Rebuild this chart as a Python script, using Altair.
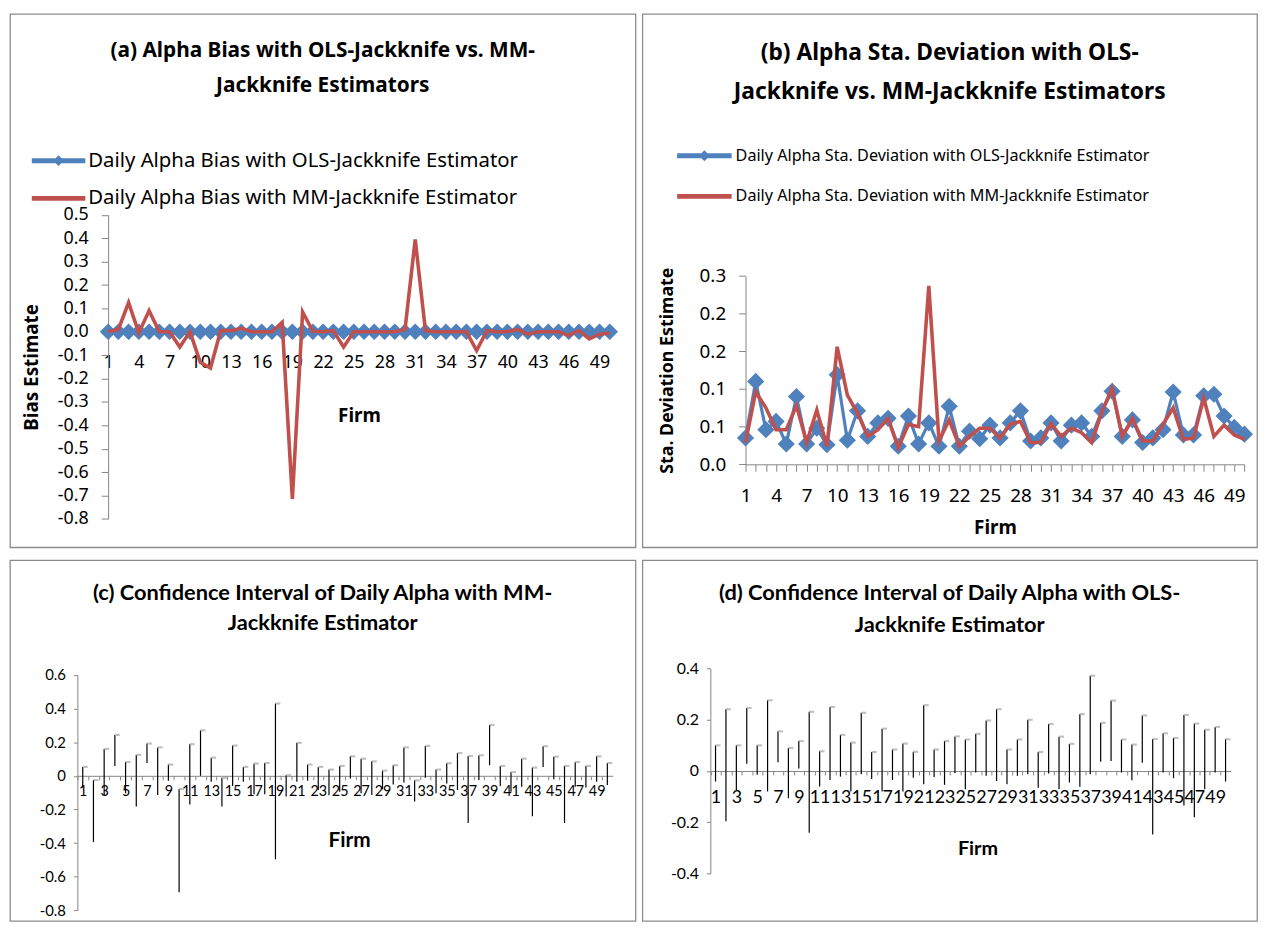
import math
import altair as alt
import pandas as pd

# ---------------- data ----------------
firms = list(range(1, 51))

a_ols_bias = [0.0, 0.0, 0.0, 0.0, 0.0, 0.0, 0.0, 0.0, 0.0, 0.0,
              0.0, 0.0, 0.0, 0.0, 0.0, 0.0, 0.0, 0.0, 0.0, 0.0,
              0.0, 0.0, 0.0, 0.0, 0.0, 0.0, 0.0, 0.0, 0.0, 0.0,
              0.0, 0.0, 0.0, 0.0, 0.0, 0.0, 0.0, 0.0, 0.0, 0.0,
              0.0, 0.0, 0.0, 0.0, 0.0, 0.0, 0.0, 0.0, 0.0, 0.0]
a_mm_bias = [0.0, 0.01, 0.125, -0.005, 0.09, 0.0, 0.0, -0.065, 0.0, -0.13,
             -0.155, 0.005, 0.005, 0.015, 0.0, 0.0, 0.0, 0.04, -0.715, 0.085,
             0.002, 0.0, 0.005, -0.065, 0.0, 0.0, 0.0, 0.0, 0.0, 0.01,
             0.395, 0.005, 0.0, 0.0, 0.0, 0.0, -0.08, 0.005, 0.0, 0.0,
             0.01, -0.01, 0.0, 0.0, 0.0, -0.015, 0.005, -0.03, -0.01, -0.005]

b_ols_sd = [0.035, 0.110, 0.046, 0.057, 0.027, 0.090, 0.027, 0.048, 0.026, 0.119,
            0.032, 0.071, 0.037, 0.055, 0.061, 0.024, 0.064, 0.027, 0.055, 0.024,
            0.077, 0.024, 0.044, 0.034, 0.052, 0.035, 0.055, 0.071, 0.031, 0.035,
            0.055, 0.031, 0.052, 0.055, 0.037, 0.071, 0.097, 0.037, 0.059, 0.029,
            0.035, 0.046, 0.096, 0.039, 0.039, 0.091, 0.093, 0.064, 0.049, 0.040]
b_mm_sd = [0.029, 0.096, 0.075, 0.046, 0.046, 0.078, 0.029, 0.072, 0.024, 0.156,
           0.092, 0.068, 0.037, 0.046, 0.061, 0.022, 0.053, 0.050, 0.237, 0.031,
           0.059, 0.024, 0.037, 0.048, 0.048, 0.035, 0.053, 0.057, 0.029, 0.029,
           0.054, 0.037, 0.048, 0.042, 0.029, 0.070, 0.101, 0.037, 0.061, 0.031,
           0.031, 0.053, 0.075, 0.033, 0.035, 0.088, 0.037, 0.052, 0.039, 0.033]

c_mm_low = [-0.07, -0.394, -0.114, 0.059, -0.104, -0.182, 0.076, -0.114, -0.029, -0.692,
            -0.17, 0.0, -0.035, -0.182, -0.06, -0.035, -0.11, -0.11, -0.496, -0.123,
            -0.035, -0.029, -0.084, -0.115, -0.094, -0.016, -0.104, -0.114, -0.08, -0.051,
            -0.039, -0.153, -0.012, -0.104, -0.045, -0.084, -0.28, -0.025, 0.063, -0.061,
            -0.094, -0.065, -0.241, 0.053, -0.02, -0.28, -0.065, -0.07, -0.035, -0.055]
c_mm_high = [0.053, -0.025, 0.16, 0.243, 0.082, 0.125, 0.192, 0.169, 0.067, -0.078,
             0.188, 0.27, 0.108, -0.012, 0.18, 0.053, 0.073, 0.076, 0.43, 0.004,
             0.196, 0.067, 0.053, 0.037, 0.059, 0.116, 0.102, 0.086, 0.031, 0.063,
             0.169, -0.027, 0.178, 0.037, 0.075, 0.135, 0.118, 0.122, 0.302, 0.059,
             0.022, 0.102, 0.049, 0.176, 0.114, 0.059, 0.082, 0.059, 0.116, 0.076]

d_ols_low = [-0.041, -0.196, -0.074, 0.028, -0.015, -0.08, 0.034, -0.106, 0.01, -0.241,
             -0.061, -0.035, -0.022, -0.08, -0.013, -0.031, -0.08, -0.035, -0.08, -0.026,
             -0.052, -0.023, -0.054, -0.009, -0.071, -0.006, -0.019, -0.039, -0.052, -0.019,
             -0.013, -0.065, -0.01, -0.071, -0.045, -0.062, -0.013, 0.036, 0.039, -0.006,
             -0.036, 0.032, -0.248, -0.006, -0.028, -0.135, -0.181, -0.071, -0.006, -0.041]
d_ols_high = [0.1, 0.241, 0.1, 0.246, 0.1, 0.276, 0.155, 0.09, 0.117, 0.231,
              0.077, 0.25, 0.141, 0.111, 0.227, 0.074, 0.165, 0.084, 0.107, 0.075,
              0.257, 0.084, 0.117, 0.135, 0.123, 0.145, 0.197, 0.241, 0.084, 0.123,
              0.2, 0.074, 0.183, 0.134, 0.106, 0.222, 0.372, 0.188, 0.275, 0.123,
              0.103, 0.217, 0.125, 0.147, 0.129, 0.219, 0.185, 0.161, 0.172, 0.124]

a_y_ticks = [-0.8, -0.7, -0.6, -0.5, -0.4, -0.3, -0.2, -0.1, 0.0, 0.1, 0.2, 0.3, 0.4, 0.5]
b_y_ticks = [0.0, 0.05, 0.1, 0.15, 0.2, 0.25]
c_y_ticks = [-0.8, -0.6, -0.4, -0.2, 0.0, 0.2, 0.4, 0.6]
d_y_ticks = [-0.4, -0.2, 0.0, 0.2, 0.4]
ab_x_labels = [1, 4, 7, 10, 13, 16, 19, 22, 25, 28, 31, 34, 37, 40, 43, 46, 49]
cd_x_labels = [1, 3, 5, 7, 9, 11, 13, 15, 17, 19, 21, 23, 25, 27, 29, 31, 33, 35, 37, 39,
               41, 43, 45, 47, 49]

a_title = ["(a) Alpha Bias with OLS-Jackknife  vs. MM-", "Jackknife Estimators"]
b_title = ["(b) Alpha Sta. Deviation with OLS-", "Jackknife vs. MM-Jackknife Estimators"]
c_title = ["(c) Confidence Interval of Daily Alpha with MM-", "Jackknife Estimator"]
d_title = ["(d) Confidence Interval of Daily Alpha with OLS-", "Jackknife Estimator"]
a_series = ["\u00a0Daily Alpha Bias with OLS-Jackknife Estimator",
            "Daily Alpha Bias with MM-Jackknife Estimator"]
b_series = ["Daily Alpha Sta. Deviation with OLS-Jackknife Estimator",
            "Daily Alpha Sta. Deviation with MM-Jackknife Estimator"]

# ---------------- styles ----------------
BLUE = "#4F81BD"
RED = "#C0504D"
AXIS_GREY = "#868686"
FRAME_GREY = "#8c8c8c"
CAP_GREY = "#a6a6a6"
SANS = "Noto Sans"
CAL = "Lato"
MINUS = "\u2212"

common_axis = dict(grid=False, domainColor=AXIS_GREY, tickColor=AXIS_GREY, domainWidth=1,
                   labelColor="black", titleColor="black", labelFlush=False,
                   labelOverlap=False)


def num_label(zero_plain=False):
    base = f"replace(format(datum.value, '.1f'), '{MINUS}', '-')"
    if zero_plain:
        return f"datum.value == 0 ? '0' : {base}"
    return base


def legend_shapes(size, stroke, length, half):
    u = math.sqrt(size) / 2
    w = math.ceil(math.sqrt(size) + stroke)
    c = w / 2
    x0 = (0 - c) / u
    x1 = (length - c) / u
    dc = (length / 2 - c) / u
    d = half / u
    line = f"M{x0:.3f},0H{x1:.3f}"
    dia = f"M{dc:.3f},{-d:.3f}L{dc + d:.3f},0L{dc:.3f},{d:.3f}L{dc - d:.3f},0Z"
    return [line + dia, line], w


def title_params(text, font, size, lh, line1_center):
    # title is laid out above the cell; a negative offset pulls it inside the frame
    off = -(line1_center + (lh + size) - 0.44 * size + 2)
    return alt.TitleParams(text=text, anchor="middle", frame="group", font=font,
                           fontSize=size, fontWeight="bold", color="black",
                           baseline="top", lineHeight=lh, offset=off)


def series_frame(v1, v2, names):
    return pd.DataFrame({"Firm": firms + firms, "value": v1 + v2,
                         "series": [names[0]] * len(v1) + [names[1]] * len(v2)})


def line_panel(df, names, W, H, xr, yr, ydom, yticks, ylabel_expr, ytitle,
               ytitle_x, font_tick, font_title_axis, ytitle_size, x_lab_center, firm_y,
               title, title_size, title_lh, title_c1, leg, diamond_size):
    zero = yr[0] + (0 - ydom[0]) / (ydom[1] - ydom[0]) * (yr[1] - yr[0])
    xenc = alt.X("Firm:Q",
                 scale=alt.Scale(domain=[1, 50], range=xr, nice=False, zero=False),
                 axis=alt.Axis(values=firms,
                               labelExpr=f"indexof({ab_x_labels}, datum.value) >= 0 ? datum.label : ''",
                               offset=zero - H, tickSize=7, labelFont=SANS,
                               labelFontSize=font_tick, labelBaseline="middle",
                               labelPadding=x_lab_center - 7,
                               title="Firm", titleFont=SANS, titleFontSize=font_title_axis,
                               titleFontWeight="bold", titleX=(xr[0] + xr[1]) / 2,
                               titleY=firm_y, titleBaseline="middle", **common_axis))
    yenc = alt.Y("value:Q",
                 scale=alt.Scale(domain=ydom, range=yr, nice=False, zero=False),
                 axis=alt.Axis(values=yticks, labelExpr=ylabel_expr, offset=-xr[0],
                               tickSize=7, labelPadding=13, labelFont=SANS,
                               labelFontSize=font_tick, title=ytitle, titleFont=SANS,
                               titleFontSize=ytitle_size, titleFontWeight="bold",
                               titleX=ytitle_x - xr[0], titleY=(yr[0] + yr[1]) / 2,
                               titleBaseline="middle", titleAngle=270, **common_axis))
    base = alt.Chart(df).encode(x=xenc, y=yenc)
    ols = base.transform_filter(alt.datum.series == names[0])
    mm = base.transform_filter(alt.datum.series == names[1])

    shapes, w = legend_shapes(leg["size"], 5, leg["length"], leg["half"])
    legend = alt.Legend(title=None, orient="none", legendX=leg["x"],
                        legendY=leg["cy"] - w / 2, direction="vertical", padding=0,
                        labelFont=SANS, labelFontSize=leg["font"], labelColor="black",
                        labelLimit=900, labelOffset=leg["length"] + leg["gap"] - w,
                        rowPadding=leg["spacing"] - w, symbolSize=leg["size"],
                        symbolStrokeWidth=5, symbolOpacity=1)
    leg_layer = base.mark_point(opacity=0, filled=False).encode(
        color=alt.Color("series:N", scale=alt.Scale(domain=names, range=[BLUE, RED]),
                        legend=legend),
        shape=alt.Shape("series:N", scale=alt.Scale(domain=names, range=shapes),
                        legend=legend))

    return alt.layer(
        ols.mark_line(color=BLUE, strokeWidth=3.2),
        ols.mark_point(shape="diamond", filled=True, size=diamond_size, color=BLUE,
                       opacity=1),
        mm.mark_line(color=RED, strokeWidth=3.6),
        leg_layer,
    ).properties(width=W, height=H,
                 title=title_params(title, SANS, title_size, title_lh, title_c1))


def ci_panel(low, high, W, H, xr, yr, ydom, yticks, ytick_font, xtick_font,
             x_lab_center, firm_size, firm_x, firm_y, title, title_size, title_lh, title_c1):
    zero = yr[0] + (0 - ydom[0]) / (ydom[1] - ydom[0]) * (yr[1] - yr[0])
    step = (xr[1] - xr[0]) / 50
    df = pd.DataFrame({"Firm": firms, "low": low, "high": high})
    xenc = alt.X("Firm:Q",
                 scale=alt.Scale(domain=[0.5, 50.5], range=xr, nice=False, zero=False),
                 axis=alt.Axis(values=firms,
                               labelExpr=f"indexof({cd_x_labels}, datum.value) >= 0 ? datum.label : ''",
                               offset=zero - H, tickSize=4, tickOffset=-step / 2,
                               labelOffset=step / 2, labelFont=CAL,
                               labelFontSize=xtick_font, labelBaseline="middle",
                               labelPadding=x_lab_center - 4, title="Firm", titleFont=CAL,
                               titleFontSize=firm_size, titleFontWeight="bold",
                               titleX=firm_x, titleY=firm_y, titleBaseline="middle",
                               **common_axis))
    yscale = alt.Scale(domain=ydom, range=yr, nice=False, zero=False)
    yaxis = alt.Axis(values=yticks, labelExpr=num_label(True), offset=-xr[0], tickSize=4,
                     labelPadding=8, labelFont=CAL, labelFontSize=ytick_font, title=None,
                     **common_axis)
    base = alt.Chart(df)
    rules = base.mark_rule(color="black", strokeWidth=1.2).encode(
        x=xenc, y=alt.Y("low:Q", scale=yscale, axis=yaxis), y2="high:Q")
    caps = base.mark_tick(color=CAP_GREY, orient="horizontal", size=5, thickness=2.2,
                          xOffset=2.5).encode(
        x=xenc, y=alt.Y("high:Q", scale=yscale, axis=yaxis))
    return alt.layer(rules, caps).properties(
        width=W, height=H, title=title_params(title, CAL, title_size, title_lh, title_c1))


chart_a = line_panel(
    series_frame(a_ols_bias, a_mm_bias, a_series), a_series,
    W=631, H=538, xr=[99, 605], yr=[509.3, 202.7], ydom=[-0.8, 0.5], yticks=a_y_ticks,
    ylabel_expr=num_label(), ytitle="Bias Estimate", ytitle_x=22, font_tick=18,
    font_title_axis=19, ytitle_size=19, x_lab_center=31, firm_y=84,
    title=a_title, title_size=21, title_lh=35, title_c1=34,
    leg=dict(x=22, cy=148, size=361, length=54, half=1.9, gap=3, spacing=38, font=20.5),
    diamond_size=280)

chart_b = line_panel(
    series_frame(b_ols_sd, b_mm_sd, b_series), b_series,
    W=620, H=538, xr=[104, 607.3], yr=[454.3, 264.3], ydom=[0, 0.25], yticks=b_y_ticks,
    ylabel_expr="format(round(datum.value * 10) / 10, '.1f')",
    ytitle="Sta. Deviation Estimate", ytitle_x=25, font_tick=19, font_title_axis=19,
    ytitle_size=18, x_lab_center=31.7, firm_y=63.7,
    title=b_title, title_size=23, title_lh=39, title_c1=37,
    leg=dict(x=35, cy=143, size=289, length=55, half=2.0, gap=4, spacing=40, font=16.3),
    diamond_size=300)

chart_c = ci_panel(
    c_mm_low, c_mm_high, W=631, H=364, xr=[68, 608], yr=[353.3, 115.7], ydom=[-0.8, 0.6],
    yticks=c_y_ticks, ytick_font=15, xtick_font=14.5, x_lab_center=15.7, firm_size=21,
    firm_x=342, firm_y=65.7, title=c_title, title_size=22, title_lh=30, title_c1=31)

chart_d = ci_panel(
    d_ols_low, d_ols_high, W=620, H=364, xr=[68.5, 593.5], yr=[316, 109.3],
    ydom=[-0.4, 0.4], yticks=d_y_ticks, ytick_font=16, xtick_font=18, x_lab_center=26.3,
    firm_size=20, firm_x=338, firm_y=78.3, title=d_title, title_size=22, title_lh=32,
    title_c1=31)

chart = alt.concat(
    chart_a, chart_b, chart_c, chart_d, columns=2, bounds="flush",
    spacing={"row": 13, "column": 7}
).resolve_scale(
    color="independent", shape="independent"
).resolve_legend(
    color="independent", shape="independent"
).properties(padding=1).configure_view(stroke=FRAME_GREY, strokeWidth=1.3, fill="white")

chart.save("out.html", embed_options={"renderer": "svg", "actions": False})
